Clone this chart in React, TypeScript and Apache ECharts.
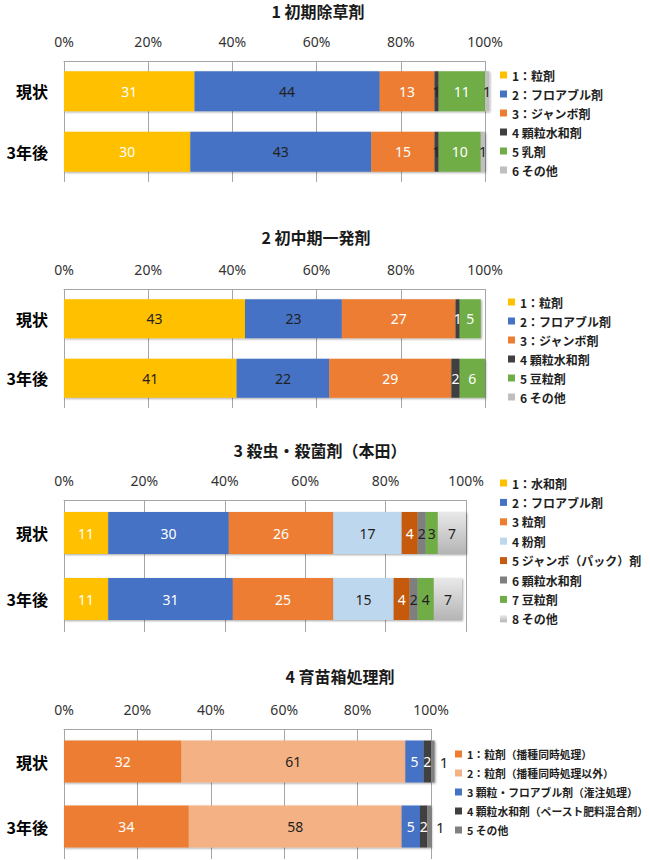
import React, { useEffect, useRef } from 'react';
import * as echarts from 'echarts';

// ---------- data ----------
const categories = ['現状', '3年後'];
const axisMin = 0;
const axisMax = 100;
const axisStep = 20;

const p1Title = '1 初期除草剤';
const p1Names = ['1：粒剤', '2：フロアブル剤', '3：ジャンボ剤', '4 顆粒水和剤', '5 乳剤', '6 その他'];
const p1Now = [31, 44, 13, 1, 11, 1];
const p1Later = [30, 43, 15, 1, 10, 1];

const p2Title = '2 初中期一発剤';
const p2Names = ['1：粒剤', '2：フロアブル剤', '3：ジャンボ剤', '4 顆粒水和剤', '5 豆粒剤', '6 その他'];
const p2Now = [43, 23, 27, 1, 5, 0];
const p2Later = [41, 22, 29, 2, 6, 0];

const p3Title = '3 殺虫・殺菌剤（本田）';
const p3Names = ['1：水和剤', '2：フロアブル剤', '3 粒剤', '4 粉剤', '5 ジャンボ（パック）剤', '6 顆粒水和剤', '7 豆粒剤', '8 その他'];
const p3Now = [11, 30, 26, 17, 4, 2, 3, 7];
const p3Later = [11, 31, 25, 15, 4, 2, 4, 7];

const p4Title = '4 育苗箱処理剤';
const p4Names = ['1：粒剤（播種同時処理）', '2：粒剤（播種同時処理以外）', '3 顆粒・フロアブル剤（潅注処理）', '4 顆粒水和剤（ペースト肥料混合剤）', '5 その他'];
const p4Now = [32, 61, 5, 2, 1];
const p4Later = [34, 58, 5, 2, 1];

// ---------- styles ----------
const W = '#ffffff';
const D = '#1f1f1f';
const grayGradient = new echarts.graphic.LinearGradient(0, 0, 0, 1, [
  { offset: 0, color: '#E9E9E9' },
  { offset: 1, color: '#B4B4B4' },
]);

const panels = [
  {
    title: p1Title, names: p1Names, now: p1Now, later: p1Later,
    colors: ['#FFC000', '#4472C4', '#ED7D31', '#404040', '#70AD47', '#BFBFBF'],
    labelColors: [W, D, W, D, W, D],
    grid: { left: 64, top: 61, width: 421, height: 121 }, barWidth: 40,
    titleX: 318, titleY: 11,
    legend: { left: 500, top: 68, gap: 5, fontSize: 12 },
    lastRight: false,
  },
  {
    title: p2Title, names: p2Names, now: p2Now, later: p2Later,
    colors: ['#FFC000', '#4472C4', '#ED7D31', '#404040', '#70AD47', '#C8C8C8'],
    labelColors: [D, D, W, W, W, D],
    grid: { left: 64, top: 289, width: 421, height: 119 }, barWidth: 39,
    titleX: 316, titleY: 237,
    legend: { left: 508, top: 295, gap: 5, fontSize: 12 },
    lastRight: false,
  },
  {
    title: p3Title, names: p3Names, now: p3Now, later: p3Later,
    colors: ['#FFC000', '#4472C4', '#ED7D31', '#BDD7EE', '#C55A11', '#7F7F7F', '#70AD47', grayGradient],
    labelColors: [W, W, W, D, W, D, D, D],
    grid: { left: 64, top: 500, width: 402, height: 132 }, barWidth: 42,
    titleX: 320, titleY: 450,
    legend: { left: 500, top: 476, gap: 5.4, fontSize: 12 },
    lastRight: false,
  },
  {
    title: p4Title, names: p4Names, now: p4Now, later: p4Later,
    colors: ['#ED7D31', '#F4B183', '#4472C4', '#404040', '#808080'],
    labelColors: [W, D, W, W, D],
    grid: { left: 64, top: 729, width: 367, height: 130 }, barWidth: 42,
    titleX: 340, titleY: 676,
    legend: { left: 455, top: 747, gap: 5, fontSize: 10.8 },
    lastRight: true,
  },
];

const numFont = "'Noto Sans', 'Noto Sans CJK JP', sans-serif";
const jpFont = "'Noto Sans CJK JP', 'Noto Sans', sans-serif";

function buildOption() {
  const grid = panels.map((p) => ({ ...p.grid, containLabel: false }));
  const xAxis = panels.map((p, i) => ({
    type: 'value',
    gridIndex: i,
    position: 'top',
    min: axisMin,
    max: axisMax,
    interval: axisStep,
    axisLabel: { formatter: '{value}%', fontSize: 14, color: '#333333', fontFamily: numFont, margin: 13 },
    axisLine: { show: true, lineStyle: { color: '#A6A6A6', width: 1 } },
    axisTick: { show: false },
    splitLine: { show: true, lineStyle: { color: '#A6A6A6', width: 1 } },
  }));
  const yAxis = panels.map((p, i) => ({
    type: 'category',
    gridIndex: i,
    inverse: true,
    data: categories,
    axisLine: { show: false },
    axisTick: { show: false },
    axisLabel: { fontSize: 16, fontWeight: 'bold', color: '#000', fontFamily: jpFont, margin: 16 },
  }));
  const series: any[] = [];
  panels.forEach((p, i) => {
    p.names.forEach((name, j) => {
      const isLastRight = p.lastRight && j === p.names.length - 1;
      series.push({
        type: 'bar',
        name,
        xAxisIndex: i,
        yAxisIndex: i,
        stack: 'panel' + i,
        barWidth: p.barWidth,
        clip: false,
        data: [p.now[j], p.later[j]],
        itemStyle: {
          color: p.colors[j],
          shadowBlur: 2,
          shadowColor: 'rgba(0,0,0,0.35)',
          shadowOffsetX: 1,
          shadowOffsetY: 1,
        },
        label: {
          show: true,
          position: isLastRight ? 'right' : 'inside',
          distance: 5,
          color: isLastRight ? '#1f1f1f' : p.labelColors[j],
          fontSize: isLastRight ? 15 : 14,
          fontFamily: numFont,
          formatter: (prm: any) => (prm.value ? String(prm.value) : ''),
        },
      });
    });
  });
  const legend = panels.map((p) => ({
    orient: 'vertical',
    left: p.legend.left,
    top: p.legend.top,
    padding: 0,
    itemGap: p.legend.gap,
    itemWidth: 7,
    itemHeight: 7,
    icon: 'rect',
    selectedMode: false,
    data: p.names,
    textStyle: { fontSize: p.legend.fontSize, fontWeight: 'bold', color: '#1f1f1f', fontFamily: jpFont, lineHeight: 14 },
  }));
  const graphic = panels.map((p) => ({
    type: 'text',
    x: p.titleX,
    y: p.titleY,
    style: {
      text: p.title,
      fontSize: 16,
      fontWeight: 'bold',
      fontFamily: jpFont,
      fill: '#1a1a1a',
      align: 'center',
      verticalAlign: 'middle',
    },
  }));
  return { animation: false, backgroundColor: '#ffffff', grid, xAxis, yAxis, series, legend, graphic };
}

export default function App() {
  const ref = useRef<HTMLDivElement>(null);
  useEffect(() => {
    document.body.style.margin = '0';
    if (!ref.current) return;
    const chart = echarts.init(ref.current, undefined, { renderer: 'svg' });
    chart.setOption(buildOption() as any);
    return () => chart.dispose();
  }, []);
  return <div ref={ref} style={{ width: 650, height: 860 }} />;
}
